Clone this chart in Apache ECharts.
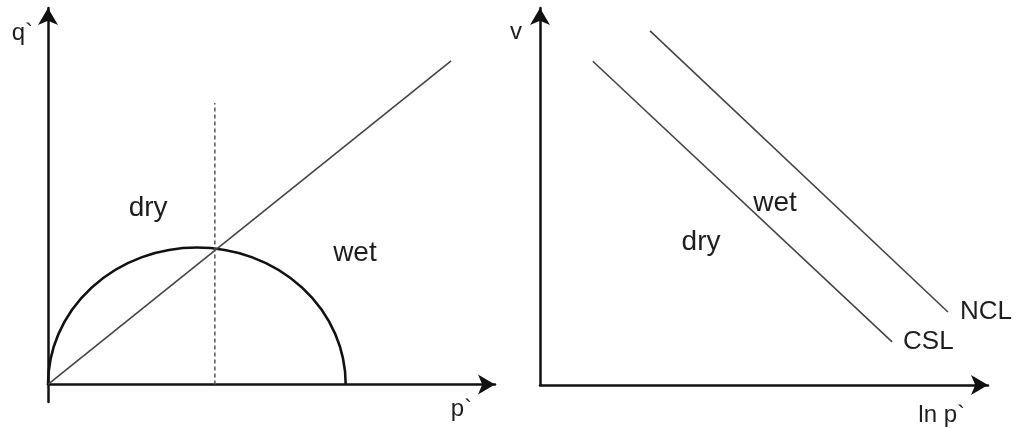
<!DOCTYPE html>
<html>
<head>
<meta charset="utf-8">
<script src="https://cdn.jsdelivr.net/npm/echarts@6/dist/echarts.min.js"></script>
<style>
  html, body { margin: 0; padding: 0; background: #fff; }
  #chart { width: 1019px; height: 428px; }
</style>
</head>
<body>
<div id="chart"></div>
<script>
// ---- left panel: q'–p' plane ----
const stressPath = [[0, 0], [9.18, 7.37]];          // q' = M p'
const yieldCap = [[3.39, 3.39, 3.12]];              // centre p', half-width, peak q'
const dividerLine = [[3.80, 0], [3.80, 6.41]];      // dashed split between sides
const leftRegions = [
  { name: 'dry', value: [2.28, 4.02] },
  { name: 'wet', value: [6.99, 2.99] }
];

// ---- right panel: v – ln p' plane ----
const cslLine = [[1.20, 7.36], [8.00, 0.98]];
const nclLine = [[2.50, 8.05], [9.27, 1.66]];
const rightRegions = [
  { name: 'dry', value: [3.66, 3.25] },
  { name: 'wet', value: [5.34, 4.14] }
];

// axis titles
const axisNames = { q: 'q`', p: 'p`', v: 'v', lnp: 'ln p`' };

const FONT = 'Liberation Sans, Arial, Helvetica, sans-serif';
const TEXT = '#1e1e1e';

function axisCommon(extra) {
  return Object.assign({
    type: 'value',
    axisLine: {
      show: true,
      onZero: true,
      symbol: ['none', 'arrow'],
      symbolSize: [15, 17],
      lineStyle: { color: '#111', width: 2.5 }
    },
    axisTick: { show: false },
    axisLabel: { show: false },
    splitLine: { show: false },
    nameLocation: 'end'
  }, extra);
}

const regionLabel = {
  show: true,
  position: 'inside',
  formatter: '{b}',
  fontFamily: FONT,
  fontSize: 28,
  color: TEXT,
  opacity: 1
};

const chart = echarts.init(document.getElementById('chart'), null, { renderer: 'canvas' });

chart.setOption({
  animation: false,
  backgroundColor: '#fff',
  grid: [
    { left: 48, right: 524, top: 8, bottom: 26 },
    { left: 540, right: 31, top: 8, bottom: 43 }
  ],
  xAxis: [
    axisCommon({
      gridIndex: 0, min: 0, max: 10.18,
      name: axisNames.p, nameGap: -23,
      nameTextStyle: { fontFamily: FONT, fontSize: 24, color: TEXT, align: 'right', verticalAlign: 'top', padding: [13, 0, 0, 0] }
    }),
    axisCommon({
      gridIndex: 1, min: 0, max: 10.18,
      name: axisNames.lnp, nameGap: -23,
      nameTextStyle: { fontFamily: FONT, fontSize: 24, color: TEXT, align: 'right', verticalAlign: 'top', padding: [18, 0, 0, 0] }
    })
  ],
  yAxis: [
    axisCommon({
      gridIndex: 0, min: -0.4, max: 8.575,
      name: axisNames.q, nameGap: -25,
      nameTextStyle: { fontFamily: FONT, fontSize: 24, color: TEXT, align: 'right', verticalAlign: 'middle', padding: [0, 15, 0, 0] }
    }),
    axisCommon({
      gridIndex: 1, min: 0, max: 8.57,
      name: axisNames.v, nameGap: -24,
      nameTextStyle: { fontFamily: FONT, fontSize: 24, color: TEXT, align: 'right', verticalAlign: 'middle', padding: [0, 18, 0, 0] }
    })
  ],
  series: [
    {
      type: 'line', xAxisIndex: 0, yAxisIndex: 0,
      data: stressPath, showSymbol: false, symbol: 'none',
      lineStyle: { color: '#444', width: 1.6 }
    },
    {
      type: 'line', xAxisIndex: 0, yAxisIndex: 0,
      data: dividerLine, showSymbol: false, symbol: 'none',
      lineStyle: { color: '#555', width: 1.5, type: [4, 3] }
    },
    {
      // half-ellipse cap drawn from its centre, half-width and peak
      type: 'custom', xAxisIndex: 0, yAxisIndex: 0,
      data: yieldCap,
      clip: false,
      renderItem: function (params, api) {
        const cx = api.value(0), half = api.value(1), peak = api.value(2);
        const c = api.coord([cx, 0]);
        const e = api.coord([cx + half, 0]);
        const t = api.coord([cx, peak]);
        const rx = e[0] - c[0];
        const ry = c[1] - t[1];
        return {
          type: 'arc',
          shape: { cx: c[0], cy: c[1], r: rx, startAngle: Math.PI, endAngle: 2 * Math.PI, clockwise: true },
          scaleY: ry / rx,
          originX: c[0],
          originY: c[1],
          style: { fill: null, stroke: '#111', lineWidth: 2.6 }
        };
      }
    },
    {
      type: 'scatter', xAxisIndex: 0, yAxisIndex: 0,
      data: leftRegions, symbolSize: 0, label: regionLabel, silent: true,
      itemStyle: { opacity: 1 }
    },
    {
      type: 'line', xAxisIndex: 1, yAxisIndex: 1,
      data: cslLine, showSymbol: false, symbol: 'none',
      lineStyle: { color: '#444', width: 1.6 },
      endLabel: { show: true, formatter: 'CSL', distance: 11, fontFamily: FONT, fontSize: 26, color: TEXT }
    },
    {
      type: 'line', xAxisIndex: 1, yAxisIndex: 1,
      data: nclLine, showSymbol: false, symbol: 'none',
      lineStyle: { color: '#444', width: 1.6 },
      endLabel: { show: true, formatter: 'NCL', distance: 12, fontFamily: FONT, fontSize: 26, color: TEXT }
    },
    {
      type: 'scatter', xAxisIndex: 1, yAxisIndex: 1,
      data: rightRegions, symbolSize: 0, label: regionLabel, silent: true,
      itemStyle: { opacity: 1 }
    }
  ]
});
</script>
</body>
</html>
